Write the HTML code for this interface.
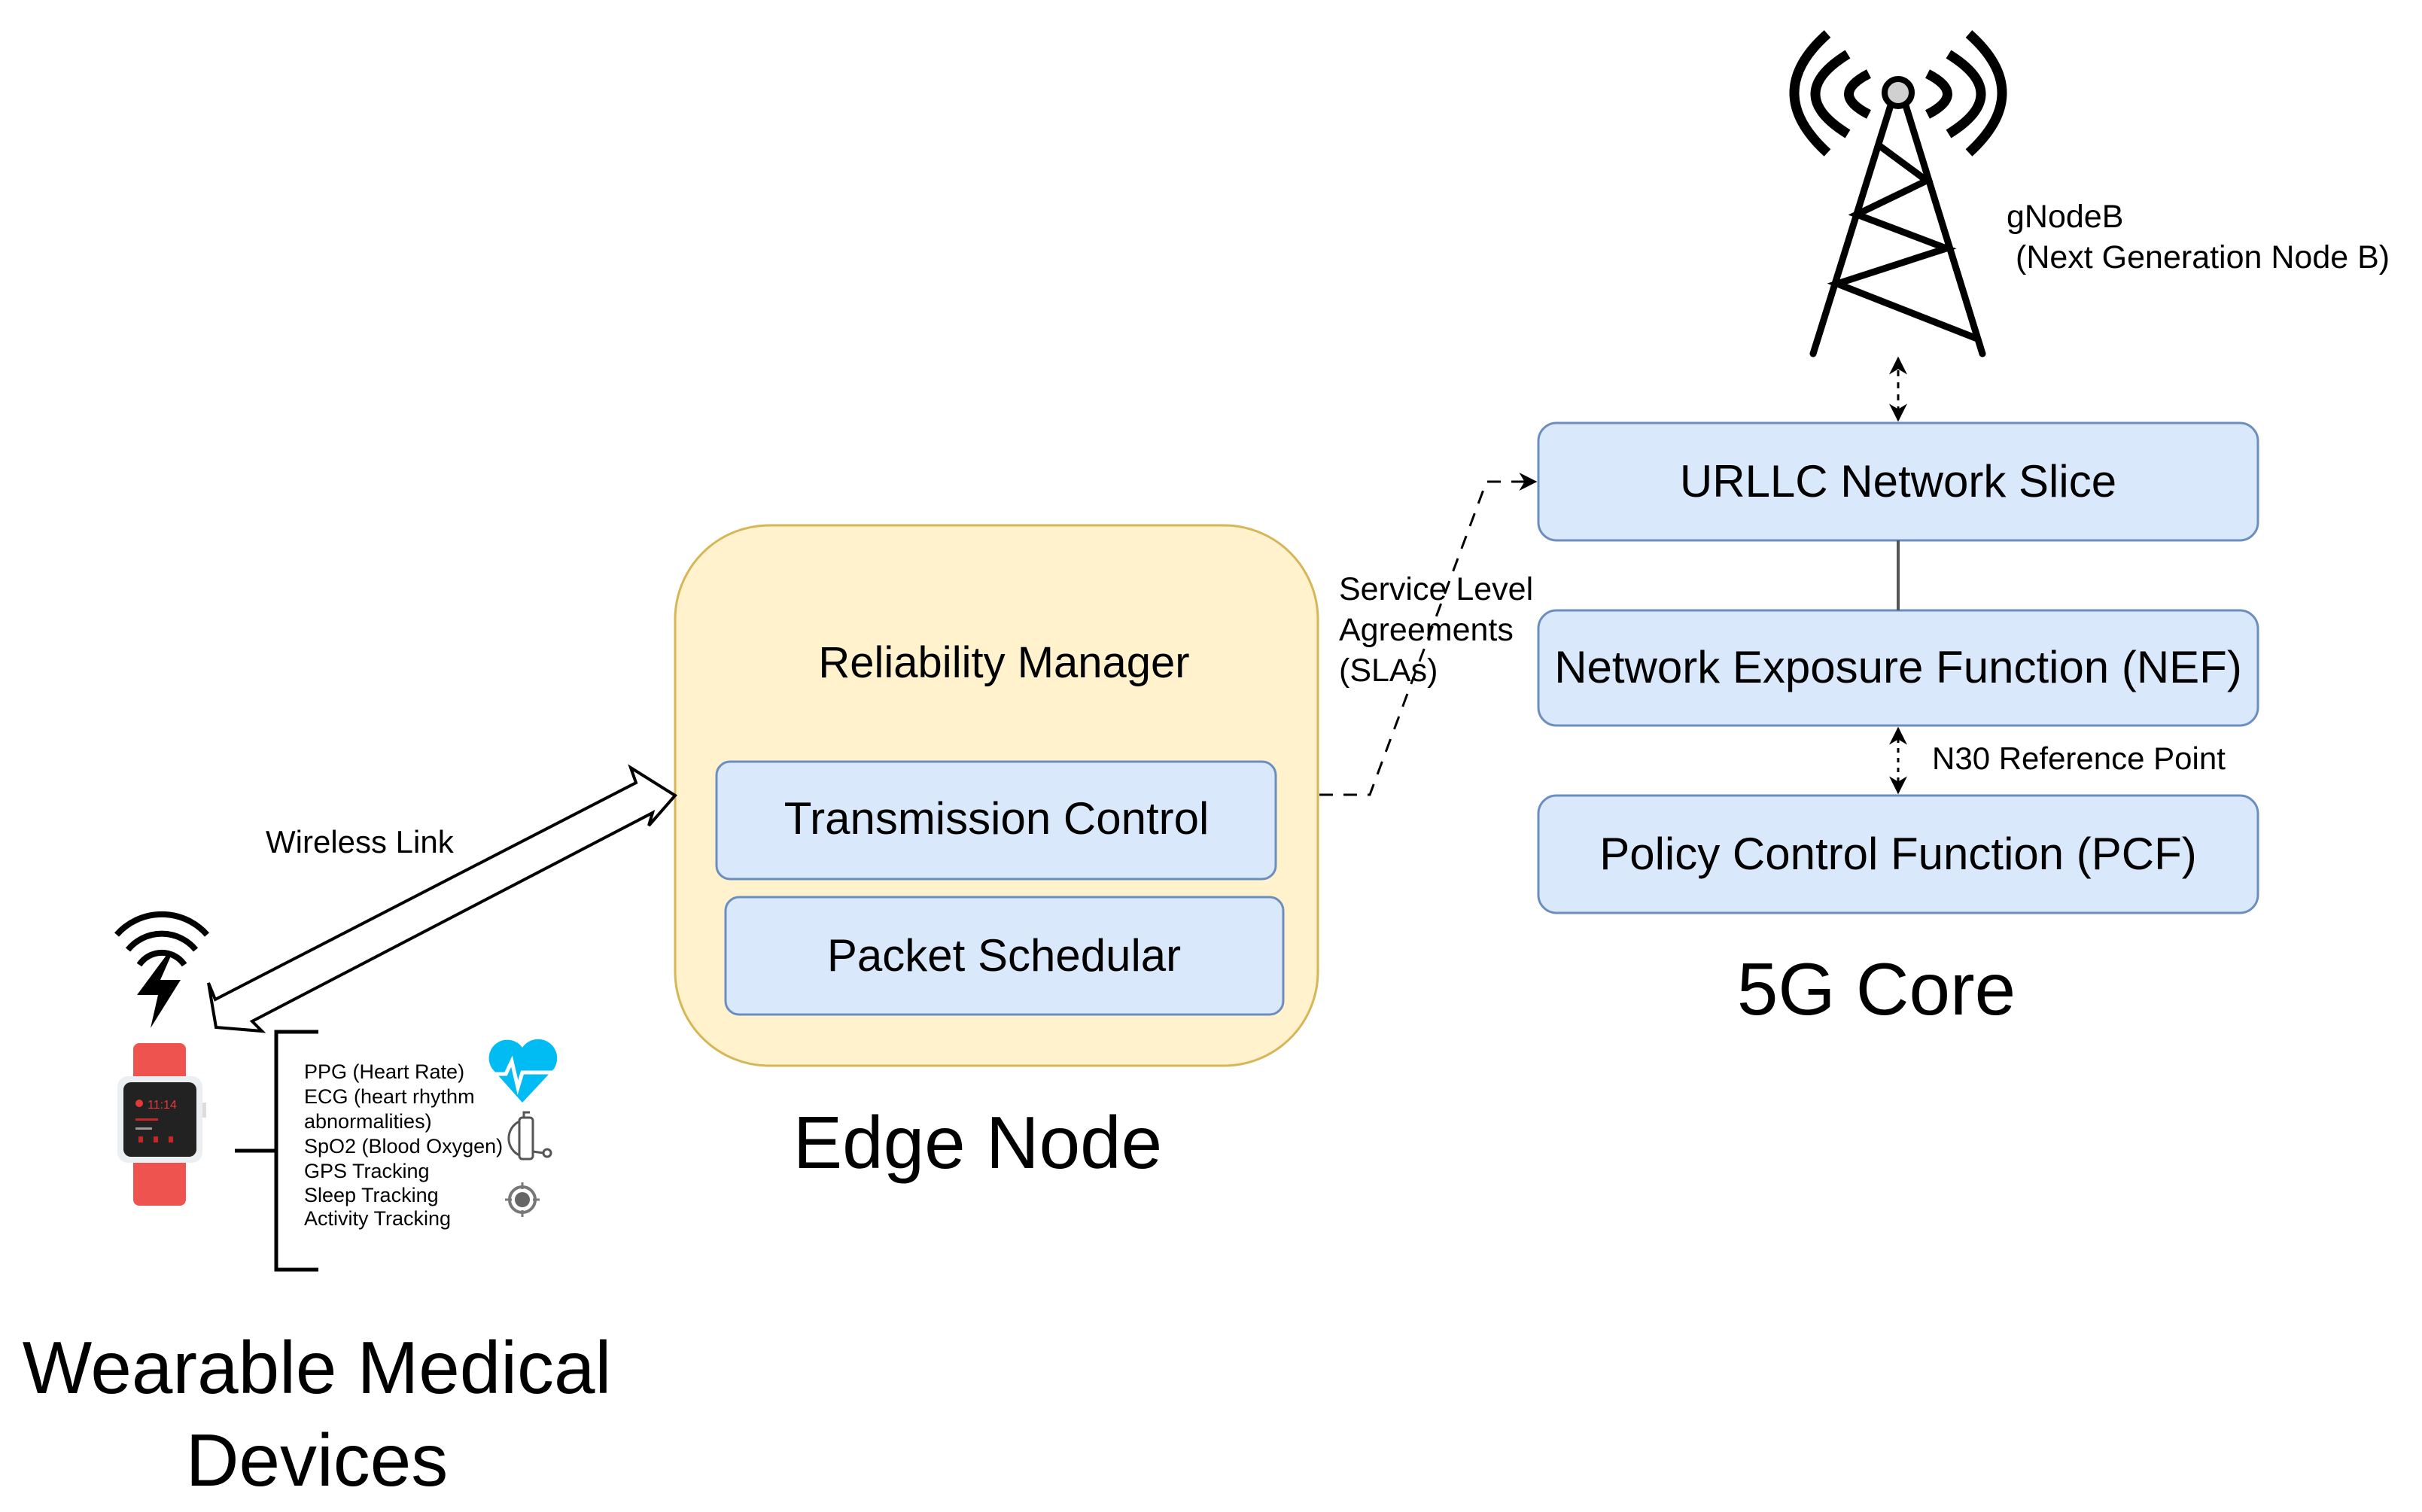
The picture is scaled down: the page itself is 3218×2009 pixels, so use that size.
<!DOCTYPE html>
<html><head><meta charset="utf-8"><style>html,body{margin:0;padding:0;background:#fff}svg{display:block}text{font-family:"Liberation Sans",Arial,sans-serif;fill:#000}</style></head>
<body>
<svg width="3218" height="2009" viewBox="0 0 3218 2009" xmlns="http://www.w3.org/2000/svg">
<defs>
<marker id="ah2" viewBox="0 0 10 10" refX="9" refY="5" markerWidth="24" markerHeight="24" markerUnits="userSpaceOnUse" orient="auto-start-reverse"><path d="M0,0 L10,5 L0,10 L3,5z" fill="#000"/></marker>
</defs>

<!-- Tower -->
<g stroke="#000" fill="none" stroke-linecap="butt">
<g stroke-width="13">
<path d="M2428,45 Q2340,123 2428,203"/>
<path d="M2455,72 Q2369,125 2455,178"/>
<path d="M2483,98 Q2430,125 2483,152"/>
<path d="M2616,45 Q2704,123 2616,203"/>
<path d="M2589,72 Q2675,125 2589,178"/>
<path d="M2561,98 Q2614,125 2561,152"/>
</g>
<g stroke-width="9" stroke-linecap="round">
<path d="M2512,140 L2409,470 M2532,140 L2634,470"/>
<path d="M2499,195 L2560,240 L2467,285 L2586,330 L2441,377 L2627,450"/>
</g>
</g>
<circle cx="2522" cy="123" r="18" fill="#d0d0d0" stroke="#000" stroke-width="8"/>
<text x="2666" y="302" font-size="43">gNodeB</text>
<text x="2678" y="356" font-size="43">(Next Generation Node B)</text>

<line x1="2522" y1="476" x2="2522" y2="558" stroke="#000" stroke-width="3" stroke-dasharray="8,8" marker-start="url(#ah2)" marker-end="url(#ah2)"/>

<g fill="#dae8fc" stroke="#6c8ebf" stroke-width="3">
<rect x="2044" y="562" width="956" height="156" rx="24"/>
<rect x="2044" y="811" width="956" height="153" rx="24"/>
<rect x="2044" y="1057" width="956" height="156" rx="24"/>
</g>
<line x1="2522" y1="718" x2="2522" y2="811" stroke="#555" stroke-width="4"/>
<line x1="2522" y1="968" x2="2522" y2="1053" stroke="#000" stroke-width="3" stroke-dasharray="6,7" marker-start="url(#ah2)" marker-end="url(#ah2)"/>
<text x="2567" y="1022" font-size="42">N30 Reference Point</text>
<text x="2522" y="660" font-size="60" text-anchor="middle">URLLC Network Slice</text>
<text x="2522" y="907" font-size="60" text-anchor="middle">Network Exposure Function (NEF)</text>
<text x="2522" y="1155" font-size="60" text-anchor="middle">Policy Control Function (PCF)</text>
<text x="2493" y="1348" font-size="98" text-anchor="middle">5G Core</text>

<rect x="897" y="698" width="854" height="718" rx="125" fill="#fff2cc" stroke="#d6b656" stroke-width="3"/>
<text x="1334" y="900" font-size="58" text-anchor="middle">Reliability Manager</text>
<g fill="#dae8fc" stroke="#6c8ebf" stroke-width="3">
<rect x="952" y="1012" width="743" height="156" rx="18"/>
<rect x="964" y="1192" width="741" height="156" rx="18"/>
</g>
<text x="1324" y="1108" font-size="60" text-anchor="middle">Transmission Control</text>
<text x="1334" y="1290" font-size="60" text-anchor="middle">Packet Schedular</text>
<text x="1299" y="1552" font-size="98" text-anchor="middle">Edge Node</text>

<path d="M1753,1056 L1820,1056 L1975,640 L2040,640" fill="none" stroke="#000" stroke-width="3" stroke-dasharray="18,14" marker-end="url(#ah2)"/>
<text x="1779" y="797" font-size="43">Service Level</text>
<text x="1779" y="851" font-size="43">Agreements</text>
<text x="1779" y="905" font-size="43">(SLAs)</text>

<path d="M897,1057 L838,1020 L845,1040 L286,1328 L277,1306 L287,1365 L348,1370 L335,1357 L867,1080 L862,1097 Z" fill="#fff" stroke="#000" stroke-width="4"/>
<text x="353" y="1133" font-size="42">Wireless Link</text>

<g fill="none" stroke="#000" stroke-width="8">
<path d="M155,1242 A80,80 0 0 1 275,1242"/>
<path d="M170,1262 A58,58 0 0 1 260,1262"/>
<path d="M185,1282 A36,36 0 0 1 245,1282"/>
</g>
<path d="M222,1268 L182,1322 L210,1322 L200,1366 L240,1302 L213,1302 L228,1268 Z" fill="#000"/>

<rect x="177" y="1386" width="70" height="70" rx="8" fill="#ef5350"/>
<rect x="177" y="1530" width="70" height="72" rx="8" fill="#ef5350"/>
<rect x="156" y="1430" width="113" height="115" rx="14" fill="#eceff1"/>
<rect x="164" y="1438" width="97" height="99" rx="10" fill="#222"/>
<circle cx="185" cy="1466" r="5" fill="#e53935"/>
<text x="196" y="1473" font-size="16" style="fill:#e53935">11:14</text>
<rect x="180" y="1486" width="30" height="3" fill="#c62828"/>
<rect x="180" y="1498" width="22" height="3" fill="#999"/>
<g fill="#c62828"><rect x="184" y="1510" width="6" height="8"/><rect x="204" y="1510" width="6" height="8"/><rect x="224" y="1510" width="6" height="8"/></g>
<rect x="269" y="1465" width="5" height="20" fill="#ddd"/>

<path d="M423,1371 L367,1371 L367,1687 L423,1687 M312,1529 L367,1529" fill="none" stroke="#000" stroke-width="5"/>
<g font-size="27">
<text x="404" y="1433">PPG (Heart Rate)</text>
<text x="404" y="1466">ECG (heart rhythm</text>
<text x="404" y="1499">abnormalities)</text>
<text x="404" y="1532">SpO2 (Blood Oxygen)</text>
<text x="404" y="1565">GPS Tracking</text>
<text x="404" y="1597">Sleep Tracking</text>
<text x="404" y="1628">Activity Tracking</text>
</g>
<path d="M694,1465 L654,1420 A22,22 0 0 1 694,1392 A22,22 0 0 1 736,1420 Z" fill="#00bcf2"/>
<path d="M652,1427 L672,1427 L680,1410 L688,1445 L694,1425 L735,1425" fill="none" stroke="#fff" stroke-width="5"/>
<g fill="none" stroke="#555" stroke-width="3">
<rect x="690" y="1485" width="18" height="55" rx="4"/>
<path d="M690,1490 A25,25 0 0 0 690,1535 M708,1530 L722,1532"/>
<circle cx="727" cy="1532" r="5"/>
<path d="M696,1484 L696,1478 L704,1478"/>
</g>
<circle cx="694" cy="1594" r="17" fill="none" stroke="#777" stroke-width="4"/>
<circle cx="694" cy="1594" r="10" fill="#666"/>
<path d="M694,1571 V1580 M694,1608 V1617 M671,1594 H680 M708,1594 H717" stroke="#777" stroke-width="3"/>

<text x="421" y="1851" font-size="98" text-anchor="middle">Wearable Medical</text>
<text x="421" y="1974" font-size="98" text-anchor="middle">Devices</text>
</svg>
</body></html>
